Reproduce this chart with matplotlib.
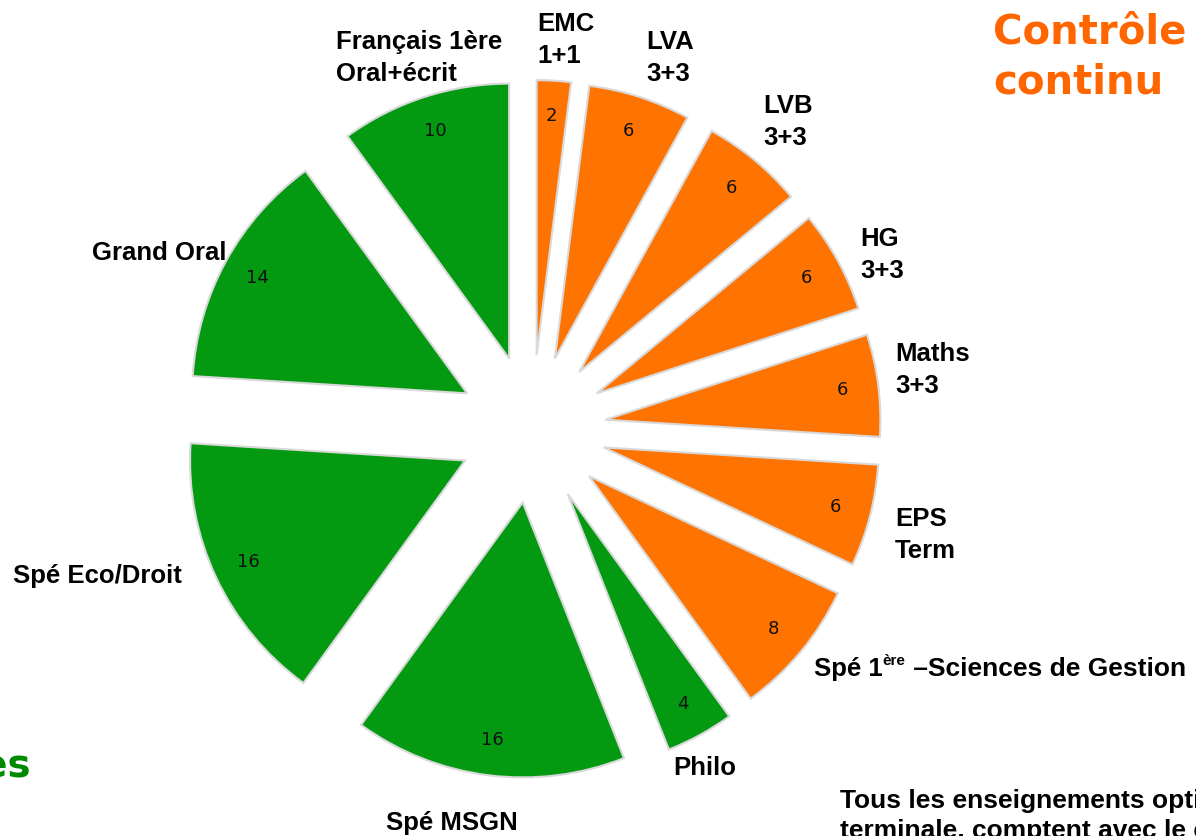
import matplotlib.pyplot as plt

# coefficients du bac (total 100)
matieres = ["EMC", "LVA", "LVB", "HG", "Maths", "EPS", "Spé 1ère", "Philo",
            "Spé MSGN", "Spé Eco/Droit", "Grand Oral", "Français 1ère"]
coefs = [2, 6, 6, 6, 6, 6, 8, 4, 16, 16, 14, 10]
controle_continu = [True, True, True, True, True, True, True,
                    False, False, False, False, False]

ORANGE = "#ff7300"
VERT = "#039a12"
W, H = 1196, 836


def Y(y):
    # coordonnees image -> axes (y vers le haut)
    return H - y


fig = plt.figure(figsize=(W / 100, H / 100), dpi=100)
ax = fig.add_axes([0, 0, 1, 1])

couleurs = [ORANGE if c else VERT for c in controle_continu]
wedges, _, nums = ax.pie(coefs, colors=couleurs, startangle=90, counterclock=False,
                         radius=275, center=(532, Y(429)), explode=[74] * len(coefs),
                         autopct=lambda p: f"{p:.0f}", pctdistance=0.87,
                         wedgeprops=dict(edgecolor="#d9d9d9", linewidth=1.5),
                         frame=True)
ax.set_xlim(0, W)
ax.set_ylim(0, H)
ax.axis("off")
for t in nums:
    t.set_fontsize(13)
    t.set_color("#111111")
    t.set_fontfamily("DejaVu Sans")

# va=baseline -> baseline de la derniere ligne
lab = dict(fontsize=18.5, fontweight="bold", family="Liberation Sans",
           va="baseline", ha="left", linespacing=1.4, color="black")

ax.text(336, Y(81), "Français 1ère\nOral+écrit", **lab)
ax.text(537, Y(63), "EMC\n1+1", **lab)
ax.text(646, Y(81), "LVA\n3+3", **lab)
ax.text(763, Y(145), "LVB\n3+3", **lab)
ax.text(860, Y(278), "HG\n3+3", **lab)
ax.text(895, Y(393), "Maths\n3+3", **lab)
ax.text(895, Y(558), "EPS\nTerm", **lab)
ax.text(673, Y(775), "Philo", **lab)
ax.text(386, Y(830), "Spé MSGN", **lab)
ax.text(13, Y(583), "Spé Eco/Droit", **lab)
ax.text(92, Y(260), "Grand Oral", **lab)

# Spé 1ère avec exposant
t1 = ax.text(814, Y(676), "Spé 1", **lab)
t2 = ax.annotate("ère", xy=(1, 0.55), xycoords=t1, va="bottom", ha="left",
                 fontsize=11, fontweight="bold", family="Liberation Sans")
ax.annotate(" –Sciences de Gestion", xy=(1, 0), xycoords=(t2, t1), va="bottom",
            ha="left", fontsize=19, fontweight="bold", family="Liberation Sans")

# titres coupes sur les bords
ax.text(993, Y(93), "Contrôle\ncontinu", fontsize=29, fontweight="bold",
        family="DejaVu Sans", color="#ff6600", va="baseline", ha="left",
        linespacing=1.3)
ax.text(31, Y(777), "Épreuves finales", fontsize=28, fontweight="bold",
        family="DejaVu Sans", color="#008a00", va="baseline", ha="right")

ax.text(840, Y(838), "Tous les enseignements optionnels, de première et de\n"
        "terminale, comptent avec le contrôle continu",
        fontsize=19, fontweight="bold", family="Liberation Sans",
        va="baseline", ha="left", linespacing=1.28)

fig.savefig("out.png", dpi=100)
